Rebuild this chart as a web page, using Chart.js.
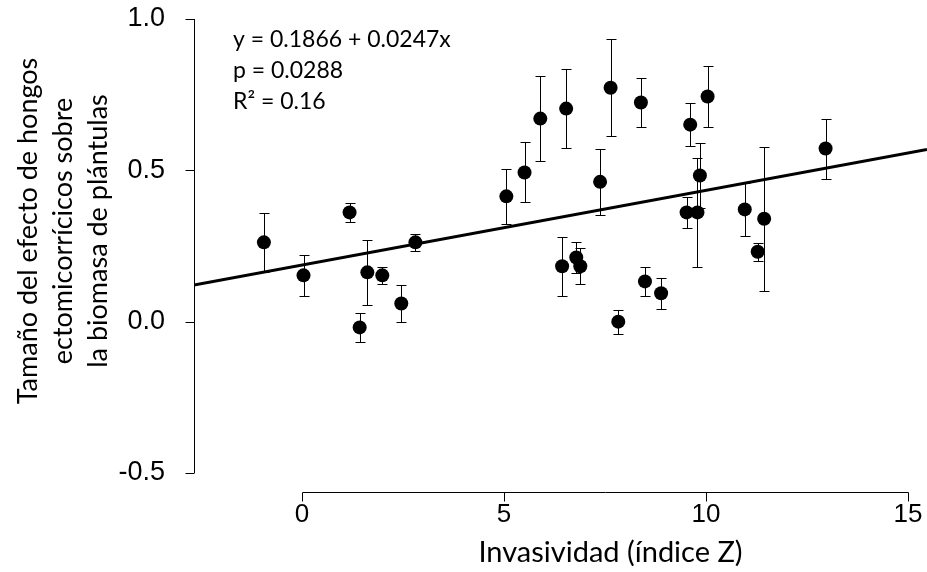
<!DOCTYPE html>
<html>
<head>
<meta charset="utf-8">
<script src="https://cdn.jsdelivr.net/npm/chart.js@4.4.0/dist/chart.umd.min.js"></script>
<style>
  html, body { margin: 0; padding: 0; background: #fff; }
  canvas { display: block; }
</style>
</head>
<body>
<canvas id="invasividad" width="927" height="572"></canvas>
<script>
// índice Z de invasividad, tamaño del efecto y error estándar de cada especie
var zIndex = [-0.94, 0.04, 1.18, 1.43, 1.62, 1.99, 2.46, 2.81, 5.06, 5.51,
              5.90, 6.44, 6.54, 6.79, 6.89, 7.38, 7.64, 7.83, 8.39, 8.49,
              8.89, 9.52, 9.61, 9.79, 9.85, 10.04, 10.96, 11.28, 11.44, 12.96];
var efecto = [0.262, 0.153, 0.361, -0.019, 0.163, 0.153, 0.060, 0.262, 0.414, 0.493,
              0.671, 0.183, 0.704, 0.212, 0.183, 0.462, 0.773, 0.000, 0.724, 0.133,
              0.094, 0.361, 0.651, 0.361, 0.483, 0.744, 0.371, 0.231, 0.340, 0.572];
var errEst = [0.097, 0.068, 0.031, 0.049, 0.108, 0.029, 0.061, 0.029, 0.090, 0.099,
              0.141, 0.098, 0.130, 0.050, 0.060, 0.110, 0.160, 0.040, 0.081, 0.049,
              0.051, 0.051, 0.071, 0.180, 0.107, 0.100, 0.088, 0.030, 0.238, 0.099];

var xTicks = [0, 5, 10, 15];
var yTicks = [-0.5, 0.0, 0.5, 1.0];

// regresión lineal
var intercepto = 0.1866;
var pendiente = 0.0247;
var textoAjuste = ["y = 0.1866 + 0.0247x", "p = 0.0288", "R\u00B2 = 0.16"];

var xMin = -2.67, xMax = 15.47;
var yMin = -0.5, yMax = 1.0;

var puntos = zIndex.map(function(x, i){ return {x: x, y: efecto[i]}; });
var recta = [xMin, xMax].map(function(x){ return {x: x, y: intercepto + pendiente * x}; });

var extras = {
  id: "extras",
  beforeDatasetsDraw: function(chart){
    var ctx = chart.ctx, sx = chart.scales.x, sy = chart.scales.y;
    ctx.save();
    ctx.strokeStyle = "#000";
    ctx.lineWidth = 1;
    zIndex.forEach(function(x, i){
      var px = Math.round(sx.getPixelForValue(x)) + 0.5;
      var top = Math.round(sy.getPixelForValue(efecto[i] + errEst[i])) + 0.5;
      var bot = Math.round(sy.getPixelForValue(efecto[i] - errEst[i])) + 0.5;
      ctx.beginPath();
      ctx.moveTo(px, top); ctx.lineTo(px, bot);
      ctx.moveTo(px - 5, top); ctx.lineTo(px + 5, top);
      ctx.moveTo(px - 5, bot); ctx.lineTo(px + 5, bot);
      ctx.stroke();
    });
    ctx.restore();
  },
  afterDraw: function(chart){
    var ctx = chart.ctx, sx = chart.scales.x, sy = chart.scales.y;
    var ax = Math.round(chart.chartArea.left) + 0.5;
    var ay = 492.5;
    ctx.save();
    ctx.strokeStyle = "#000";
    ctx.lineWidth = 1;
    ctx.beginPath();
    // eje y
    ctx.moveTo(ax, sy.getPixelForValue(yMax));
    ctx.lineTo(ax, sy.getPixelForValue(yMin));
    yTicks.forEach(function(v){
      var py = Math.round(sy.getPixelForValue(v)) + 0.5;
      ctx.moveTo(ax - 9, py); ctx.lineTo(ax, py);
    });
    // eje x, separado del área del gráfico
    var x0 = Math.round(sx.getPixelForValue(xTicks[0])) + 0.5;
    var x1 = Math.round(sx.getPixelForValue(xTicks[xTicks.length - 1])) + 0.5;
    ctx.moveTo(x0, ay); ctx.lineTo(x1, ay);
    xTicks.forEach(function(v){
      var px = Math.round(sx.getPixelForValue(v)) + 0.5;
      ctx.moveTo(px, ay); ctx.lineTo(px, ay + 9);
    });
    ctx.stroke();

    ctx.fillStyle = "#000";
    ctx.textBaseline = "middle";

    // título eje x
    ctx.font = "29px Lato";
    ctx.textAlign = "center";
    ctx.fillText("Invasividad (\u00EDndice Z)", (x0 + x1) / 2 + 5, 553);

    // título eje y
    var lineasY = ["Tama\u00F1o del efecto de hongos",
                   "ectomicorr\u00EDcicos sobre",
                   "la biomasa de pl\u00E1ntulas"];
    ctx.font = "27px Lato";
    ctx.save();
    ctx.translate(0, 231);
    ctx.rotate(-Math.PI / 2);
    lineasY.forEach(function(t, i){
      ctx.fillText(t, 0, 28 + i * 35);
    });
    ctx.restore();

    // ecuación de la recta
    ctx.font = "23px Lato";
    ctx.textAlign = "left";
    textoAjuste.forEach(function(t, i){
      ctx.fillText(t, 233, 40 + i * 31);
    });
    ctx.restore();
  }
};

new Chart(document.getElementById("invasividad").getContext("2d"), {
  type: "scatter",
  data: {
    datasets: [{
      data: puntos,
      backgroundColor: "#000",
      borderWidth: 0,
      pointRadius: 7,
      pointHoverRadius: 7,
      clip: false,
      order: 0
    }, {
      data: recta,
      showLine: true,
      borderColor: "#000",
      borderWidth: 3,
      pointRadius: 0,
      fill: false,
      order: 1
    }]
  },
  options: {
    responsive: false,
    animation: false,
    layout: { autoPadding: false, padding: { top: 19, right: 0, bottom: 0, left: 0 } },
    plugins: { legend: { display: false }, tooltip: { enabled: false } },
    scales: {
      x: {
        type: "linear",
        min: xMin,
        max: xMax,
        afterBuildTicks: function(s){ s.ticks = xTicks.map(function(v){ return {value: v}; }); },
        afterFit: function(s){ s.height = 99; s.paddingLeft = 0; s.paddingRight = 0; },
        grid: { display: false },
        border: { display: false },
        ticks: {
          color: "#000",
          padding: 18,
          font: { family: "Liberation Sans", size: 26 },
          callback: function(v){ return String(v); }
        }
      },
      y: {
        type: "linear",
        min: yMin,
        max: yMax,
        afterBuildTicks: function(s){ s.ticks = yTicks.map(function(v){ return {value: v}; }); },
        afterFit: function(s){ s.width = 194; s.paddingTop = 0; s.paddingBottom = 0; },
        grid: { display: false },
        border: { display: false },
        ticks: {
          color: "#000",
          padding: 21,
          font: { family: "Liberation Sans", size: 27 },
          callback: function(v){ return v.toFixed(1); }
        }
      }
    }
  },
  plugins: [extras]
});
</script>
</body>
</html>
